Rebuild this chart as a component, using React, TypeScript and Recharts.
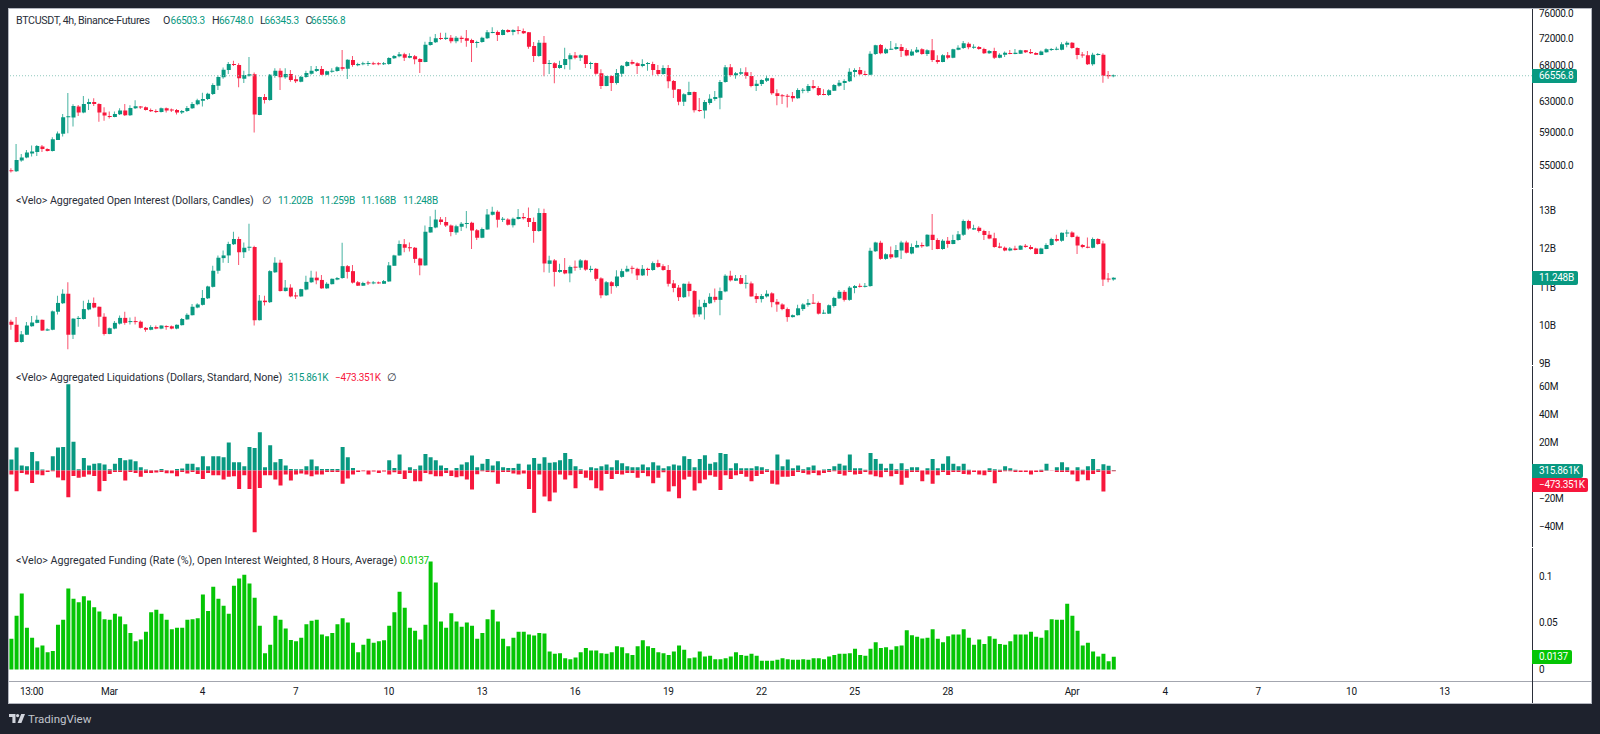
import { Bar, BarChart, Cell, ComposedChart, ReferenceLine, XAxis, YAxis } from "recharts";

// BTCUSDT 4h candles
const btcOpen = [
  54430,54390,55630,55980,56460,56660,57300,57020,56780,58110,
  58860,60960,60920,62350,61570,62700,62970,62700,61570,61140,
  61010,61350,61830,61220,62130,62350,62260,61910,61780,61650,
  62130,61910,61910,61570,61780,62130,62660,63140,63360,64040,
  65180,66340,67370,68230,68090,66150,66570,66760,61260,63630,
  63230,66520,67280,66340,66800,66050,65730,66380,66850,67230,
  67520,66710,67130,67230,67750,67560,68810,68040,68190,68230,
  68280,68280,68190,68230,69050,69350,69640,69150,69350,68960,
  68520,71030,71430,72090,71930,72140,71580,72140,72040,71780,
  71330,71480,72040,72850,73010,72540,73320,73010,73320,73170,
  72950,70880,69400,71380,68230,68330,67660,68090,68910,69450,
  69150,69500,68230,68380,66900,65130,66520,65550,66850,67950,
  68520,68330,67950,68230,68230,67370,66800,67660,65820,64670,
  63010,63900,64310,61910,61830,62840,63360,63540,65680,67750,
  66620,66850,67040,66520,65130,65410,65870,66200,64130,63860,
  63810,63770,63450,64490,64450,65130,64860,63990,63900,64490,
  65180,65550,65780,67090,67370,66800,66710,69690,71030,69790,
  70330,70430,70730,70280,69450,69940,70380,69690,70240,68810,
  68520,69500,69150,70330,70580,71230,70630,70730,70430,69790,
  70140,69150,69590,69840,69690,69740,70240,69990,69840,69550,
  69940,70280,70330,70330,71080,71380,70580,69590,69500,68190,
  69550,69590,66660,66503.3,
];
const btcHigh = [
  54740,57620,56420,56900,57420,57500,57500,57100,58440,59140,
  61390,64170,62660,62570,63770,63410,63450,62790,62260,61700,
  61700,62130,62700,62530,63190,62440,62350,62090,62000,62220,
  62220,62090,62040,61910,62440,62970,63410,64220,64220,65500,
  66620,67710,68520,68710,68330,67280,69250,67000,63680,64040,
  66800,67610,67610,67610,67370,66620,66520,67280,67950,67950,
  67950,67280,67610,67900,70280,68910,69400,68420,68570,68670,
  68570,68470,68520,69200,69550,69990,69890,69790,69550,69050,
  71530,72290,72700,72900,72900,72540,72390,72440,73320,71980,
  71680,72290,73320,73740,73220,73430,73430,73430,73900,73530,
  73010,71480,71780,72390,68810,68470,68710,70630,69790,69990,
  69640,69550,68570,68420,67470,66570,66620,67520,68090,68670,
  68860,68470,68910,68520,68570,68090,68040,68090,65960,64720,
  64130,65730,64360,63500,63230,63990,64450,65960,68090,68230,
  67090,67610,67750,67090,65960,66050,66620,66290,64670,64040,
  64040,64310,64810,64860,65410,65960,65130,64670,64670,65410,
  65960,66050,67610,67610,67800,67280,70090,71080,71180,70630,
  71630,71280,71180,70530,70380,70730,70530,70380,71930,69500,
  69640,69990,70480,70980,71630,71430,71130,70880,70630,70280,
  70630,69790,70040,70280,70430,70330,70280,70430,69940,70190,
  70530,70580,70780,71430,71580,71480,70680,69990,70140,69890,
  69840,69790,67230,66748,
];
const btcLow = [
  54240,54310,55480,55900,56100,56180,56660,56700,56700,58110,
  58520,58940,59770,61140,61480,61910,62440,60400,60530,60790,
  60960,61260,61140,61140,62040,62040,61830,61650,61520,61570,
  61570,61650,61310,61390,61650,62040,62530,62350,63230,63900,
  64580,66150,66800,67950,64950,65550,66430,59020,61220,62750,
  63140,66290,64580,66150,65730,65550,65640,66290,66710,67090,
  66620,66620,66990,67130,67280,66100,67850,67900,68040,67950,
  68090,68040,68090,68140,68960,69200,68670,69050,68190,66950,
  68470,70930,71330,71780,71780,71280,71280,71380,70780,68520,
  70630,71380,71930,72800,71630,72490,72900,72490,72650,72700,
  70480,68520,69300,66480,66800,65500,67560,67470,67420,68910,
  68670,67660,67520,66710,64720,65090,64450,65320,66430,67850,
  68140,66800,67750,67280,66620,66570,66710,64810,63500,62530,
  62440,63860,61570,61650,60790,62610,63140,62000,65590,66430,
  66150,66660,66150,64950,64450,65130,65680,63950,62530,62700,
  62220,63010,63410,64130,64220,64670,63770,63860,63770,64450,
  65040,64580,65680,66340,66620,66620,66620,69550,69640,69690,
  70280,70280,69250,69350,69400,69840,69590,69400,68520,68280,
  68470,68910,69050,70240,70430,70380,70480,70330,69690,69690,
  68960,69050,69250,69640,69640,69690,69840,69690,69550,69500,
  69890,70140,70240,70240,70680,70480,68910,69150,68090,67990,
  69450,65590,66150,66345.3,
];
const btcClose = [
  54400,55710,55980,56580,56700,57380,57020,56780,58190,58900,
  60960,61050,62440,61570,62700,62970,62700,61570,61180,61010,
  61390,61830,61220,62170,62390,62220,61910,61740,61650,62130,
  61830,61830,61570,61780,62170,62700,63190,63360,64080,65270,
  66380,67420,68230,68090,66200,66660,66760,61310,63630,63230,
  66710,67280,66340,66800,65960,65780,66430,66950,67280,67520,
  66710,67180,67280,67750,67560,68860,68090,68230,68330,68280,
  68190,68190,68280,69100,69400,69640,69150,69400,68910,68520,
  71080,71480,72040,71930,72140,71580,72140,71930,71680,71330,
  71480,72140,72950,73010,72540,73320,73010,73320,73170,72800,
  70780,69400,71380,68230,68330,67660,68090,68960,69500,69150,
  69500,68230,68380,66850,65130,66520,65550,66950,67990,68520,
  68280,67950,68230,68330,67370,66800,67660,65780,64630,63010,
  63990,64310,61870,61780,62970,63410,63630,65680,67750,66620,
  66900,67040,66520,65130,65450,65960,66200,64130,63770,63720,
  63680,63450,64580,64580,65130,64860,63900,63900,64540,65270,
  65590,65820,67130,67370,66760,66660,69740,70980,69790,70380,
  70430,70730,70140,69450,70040,70330,69690,70240,68810,68520,
  69500,69150,70380,70630,71280,70680,70730,70430,69790,70140,
  69150,69590,69890,69690,69890,70240,69940,69790,69590,70040,
  70380,70380,70430,71130,71380,70580,69550,69450,68190,69590,
  69690,66570,66503.3,66556.8,
];

// Aggregated open interest candles, in billions
const oiOpen = [
  10.10,10.02,9.57,9.76,9.98,10.07,10.15,9.87,9.89,10.36,
  10.58,10.83,9.76,10.17,10.17,10.42,10.59,10.49,10.23,9.78,
  9.92,10.05,10.20,10.09,10.11,10.10,9.94,9.89,9.96,9.92,
  9.98,9.98,9.92,10.01,10.16,10.27,10.47,10.54,10.71,11.01,
  11.43,11.76,11.83,12.12,12.26,11.91,12.03,12.05,10.14,10.65,
  10.61,11.39,11.64,10.90,10.99,10.77,10.76,10.94,11.13,11.25,
  11.19,10.97,11.08,11.20,11.24,11.55,11.42,11.13,11.04,11.12,
  11.10,11.12,11.09,11.15,11.56,11.83,12.12,12.04,12.03,11.75,
  11.57,12.43,12.56,12.77,12.70,12.61,12.43,12.58,12.65,12.68,
  12.49,12.29,12.51,12.89,12.97,12.76,12.77,12.62,12.78,12.83,
  12.81,12.70,12.47,12.94,11.61,11.70,11.40,11.45,11.36,11.53,
  11.51,11.70,11.45,11.48,11.23,10.79,11.13,11.03,11.27,11.41,
  11.50,11.48,11.31,11.48,11.45,11.63,11.55,11.45,11.10,10.99,
  10.74,11.09,10.90,10.29,10.48,10.58,10.75,10.67,10.89,11.30,
  11.17,11.24,11.09,11.10,10.77,10.69,10.76,10.84,10.62,10.55,
  10.43,10.22,10.27,10.43,10.54,10.59,10.59,10.31,10.31,10.51,
  10.71,10.88,10.67,10.98,11.03,11.01,11.03,11.94,12.16,11.74,
  11.86,11.78,11.96,12.17,11.88,12.04,12.10,12.07,12.37,12.23,
  12.00,12.21,12.13,12.23,12.37,12.73,12.51,12.55,12.47,12.37,
  12.28,12.06,12.03,11.96,12.01,11.98,12.08,12.05,12.01,11.87,
  12.00,12.10,12.26,12.21,12.40,12.43,12.32,12.10,12.05,12.03,
  12.26,12.14,11.22,11.202,
];
const oiHigh = [
  10.15,10.22,9.86,10.09,10.25,10.26,10.16,9.93,10.39,10.78,
  10.95,11.13,10.19,10.25,10.65,10.67,10.73,10.50,10.32,9.95,
  10.12,10.26,10.36,10.21,10.23,10.13,9.96,10.01,10.00,10.01,
  10.01,10.00,10.03,10.20,10.32,10.56,10.58,10.93,11.04,11.56,
  11.83,11.96,12.19,12.45,12.32,12.17,12.66,12.08,10.80,10.78,
  11.44,11.78,11.72,11.19,11.08,10.87,10.96,11.30,11.43,11.41,
  11.32,11.13,11.23,11.27,12.16,11.58,11.58,11.16,11.14,11.17,
  11.16,11.15,11.19,11.66,11.85,12.22,12.26,12.17,12.05,11.77,
  12.61,12.85,13.02,12.83,12.83,12.64,12.63,12.70,12.99,12.71,
  12.52,12.56,13.04,13.10,13.01,12.83,12.80,12.82,13.04,12.94,
  13.08,12.82,13.06,13.05,11.82,11.74,11.61,11.76,11.57,11.70,
  11.74,11.72,11.56,11.50,11.26,11.16,11.16,11.44,11.48,11.56,
  11.56,11.51,11.58,11.51,11.67,11.72,11.60,11.58,11.19,11.06,
  11.10,11.15,10.92,10.67,10.67,10.84,10.97,10.99,11.34,11.43,
  11.32,11.32,11.32,11.15,10.84,10.82,10.92,10.87,10.69,10.58,
  10.47,10.29,10.54,10.58,10.69,10.82,10.63,10.41,10.55,10.75,
  10.93,10.93,11.03,11.06,11.10,11.11,12.03,12.19,12.21,11.89,
  12.06,12.10,12.21,12.21,12.14,12.21,12.17,12.38,12.91,12.28,
  12.25,12.31,12.37,12.47,12.77,12.76,12.63,12.59,12.50,12.47,
  12.42,12.16,12.06,12.05,12.08,12.10,12.13,12.10,12.03,12.03,
  12.15,12.29,12.37,12.43,12.50,12.46,12.35,12.13,12.30,12.30,
  12.28,12.21,11.37,11.259,
];
const oiLow = [
  9.89,9.56,9.55,9.76,9.97,10.06,9.86,9.86,9.88,10.29,
  10.56,9.38,9.65,9.97,10.16,10.40,10.45,9.97,9.74,9.77,
  9.90,10.03,10.02,10.03,10.03,9.92,9.84,9.88,9.90,9.90,
  9.89,9.90,9.90,10.00,10.15,10.26,10.45,10.52,10.69,10.99,
  11.35,11.64,11.63,12.10,11.58,11.76,11.95,10.00,10.13,10.52,
  10.59,11.37,10.89,10.89,10.74,10.69,10.75,10.92,11.11,11.08,
  10.96,10.96,11.07,11.18,11.22,11.23,11.10,11.03,11.03,11.06,
  11.08,11.09,11.09,11.14,11.56,11.82,11.91,11.93,11.63,11.31,
  11.56,12.42,12.54,12.63,12.57,12.33,12.37,12.47,12.54,12.00,
  12.23,12.28,12.50,12.87,12.56,12.70,12.61,12.56,12.77,12.77,
  12.57,12.16,12.45,11.39,11.38,11.02,11.38,11.34,11.13,11.43,
  11.45,11.43,11.39,11.16,10.71,10.77,10.83,10.99,11.25,11.39,
  11.36,11.19,11.29,11.30,11.43,11.51,11.43,11.02,10.87,10.64,
  10.72,10.76,10.21,10.23,10.16,10.56,10.61,10.27,10.87,11.15,
  11.16,11.08,10.97,10.75,10.59,10.60,10.73,10.48,10.36,10.40,
  10.10,10.21,10.26,10.38,10.49,10.56,10.29,10.30,10.30,10.47,
  10.69,10.63,10.65,10.84,10.99,10.99,11.01,11.92,11.72,11.72,
  11.74,11.76,11.74,11.88,11.86,12.03,12.03,12.05,11.97,11.99,
  11.98,12.03,12.12,12.21,12.34,12.50,12.50,12.43,12.23,12.25,
  12.03,12.02,11.94,11.94,11.96,11.97,12.03,11.98,11.86,11.86,
  11.99,12.08,12.19,12.19,12.31,12.30,11.87,12.02,12.02,12.02,
  12.11,11.03,11.13,11.168,
];
const oiClose = [
  10.02,9.57,9.77,10.00,10.08,10.15,9.87,9.90,10.37,10.59,
  10.83,9.76,10.18,10.20,10.43,10.59,10.47,10.23,9.78,9.93,
  10.07,10.20,10.07,10.10,10.09,9.94,9.89,9.96,9.92,10.00,
  9.96,9.92,10.02,10.17,10.28,10.49,10.55,10.72,11.02,11.43,
  11.77,11.83,12.13,12.26,11.91,12.03,12.05,10.14,10.65,10.61,
  11.42,11.64,10.90,10.99,10.76,10.76,10.95,11.14,11.25,11.18,
  10.97,11.09,11.22,11.24,11.55,11.40,11.12,11.04,11.11,11.10,
  11.12,11.10,11.16,11.57,11.83,12.13,12.03,12.02,11.74,11.57,
  12.45,12.57,12.77,12.70,12.61,12.44,12.59,12.66,12.67,12.48,
  12.29,12.52,12.90,12.97,12.76,12.77,12.63,12.79,12.83,12.80,
  12.70,12.47,12.94,11.62,11.70,11.40,11.45,11.36,11.53,11.51,
  11.70,11.46,11.48,11.22,10.79,11.13,11.03,11.28,11.42,11.48,
  11.48,11.31,11.48,11.45,11.63,11.53,11.45,11.09,10.98,10.74,
  11.09,10.90,10.29,10.49,10.59,10.75,10.67,10.90,11.30,11.18,
  11.23,11.09,11.10,10.76,10.69,10.77,10.83,10.61,10.55,10.43,
  10.22,10.27,10.45,10.55,10.59,10.57,10.31,10.33,10.53,10.72,
  10.88,10.67,10.99,11.03,11.01,11.03,11.95,12.17,11.74,11.86,
  11.78,11.97,12.17,11.90,12.05,12.10,12.07,12.37,12.23,12.00,
  12.21,12.13,12.23,12.38,12.73,12.53,12.54,12.47,12.36,12.27,
  12.05,12.03,11.96,12.01,11.97,12.08,12.05,12.00,11.87,12.01,
  12.10,12.26,12.21,12.42,12.43,12.31,12.09,12.05,12.03,12.26,
  12.13,11.20,11.20,11.248,
];

// Aggregated liquidations, in millions of dollars
const liqLong = [
  7.9,16.4,3.6,3.1,13.3,6.7,0.7,0.1,10.2,16.4,
  16.9,61.7,20.5,1.0,9.0,3.6,4.8,5.2,4.3,1.0,
  4.8,9.0,7.4,7.9,6.7,2.4,0.7,0.2,0.2,1.2,
  0.2,0.1,1.2,1.4,4.8,4.8,2.4,10.2,3.1,10.2,
  10.2,9.5,20.0,6.0,6.0,3.1,16.9,16.2,27.4,2.4,
  18.1,6.0,8.3,3.6,1.2,1.0,1.0,3.1,7.9,3.1,
  1.2,1.2,1.2,1.2,16.9,9.5,1.9,0.1,0.1,0.1,
  0.1,0.1,0.1,7.4,1.9,11.4,0.1,2.4,1.0,3.6,
  11.9,9.5,7.4,3.6,1.9,0.1,1.9,4.3,6.0,10.7,
  2.4,4.8,8.3,3.6,6.7,2.4,1.9,1.9,4.8,0.1,
  4.3,9.0,4.8,9.5,5.5,6.0,7.4,12.6,8.3,3.1,
  1.0,0.1,2.4,1.7,3.1,4.3,2.4,7.4,5.2,3.1,
  2.4,2.4,4.3,2.4,6.0,3.6,1.7,3.1,4.3,3.6,
  10.2,8.3,2.4,8.3,11.0,4.8,6.0,12.6,11.9,1.7,
  5.2,1.7,1.7,1.7,3.1,2.4,1.0,0.1,11.4,3.1,
  7.9,1.7,3.6,1.0,2.4,3.6,0.1,0.7,1.2,3.1,
  4.8,3.6,11.4,1.7,1.7,0.5,12.6,8.3,4.8,1.7,
  4.8,1.0,5.2,1.0,2.4,2.4,0.1,1.7,8.3,1.7,
  4.8,10.2,4.8,3.1,4.8,0.5,0.1,0.1,0.1,1.7,
  1.0,0.5,3.1,1.7,0.5,0.1,0.1,0.1,0.1,0.5,
  4.8,0.1,2.4,6.0,2.4,0.1,2.4,0.5,3.1,8.3,
  1.0,4.5,3.5,0.316,
];
const liqShort = [
  -2.9,-14.8,-1.7,-2.9,-8.8,-2.9,-3.3,-1.0,-0.5,-5.0,
  -6.9,-19.0,-3.8,-5.2,-4.5,-2.9,-3.8,-14.8,-7.4,-2.4,
  -1.0,-1.0,-7.1,-1.0,-1.7,-4.5,-1.7,-1.7,-1.4,-1.0,
  -1.9,-1.9,-4.0,-1.0,-2.1,-1.0,-2.4,-6.0,-1.7,-3.3,
  -3.3,-6.4,-4.5,-4.0,-13.1,-3.3,-13.1,-44.0,-12.4,-3.3,
  -3.3,-6.4,-10.7,-2.9,-7.1,-2.9,-2.1,-2.9,-4.0,-2.9,
  -2.9,-1.0,-1.0,-1.0,-9.5,-5.7,-2.9,-1.0,-0.5,-2.9,
  -0.7,-1.7,-0.7,-2.9,-1.2,-2.4,-6.0,-1.7,-7.6,-7.6,
  -1.7,-2.6,-4.0,-4.0,-1.7,-3.8,-4.8,-4.0,-6.4,-13.6,
  -2.6,-0.5,-1.0,-1.2,-9.5,-1.0,-1.0,-2.1,-2.9,-2.1,
  -13.1,-30.2,-2.9,-18.6,-21.9,-15.7,-2.9,-6.4,-3.3,-12.6,
  -2.4,-5.2,-6.9,-12.6,-14.3,-2.4,-6.0,-2.4,-2.9,-1.7,
  -1.7,-5.2,-1.7,-4.0,-9.0,-5.2,-1.2,-15.0,-11.2,-19.8,
  -6.4,-4.5,-14.3,-9.0,-6.4,-3.3,-4.5,-13.8,-3.3,-6.0,
  -3.3,-2.4,-4.5,-7.6,-3.8,-2.4,-1.0,-9.5,-10.0,-4.5,
  -4.5,-3.8,-1.0,-1.7,-2.9,-1.7,-3.3,-1.7,-1.0,-0.5,
  -2.4,-3.6,-1.0,-2.9,-2.4,-1.0,-2.9,-4.0,-4.8,-1.0,
  -4.0,-2.4,-10.2,-5.2,-1.0,-1.0,-7.6,-2.9,-9.5,-3.3,
  -1.0,-3.1,-1.0,-1.0,-2.4,-2.9,-1.0,-2.9,-3.3,-1.0,
  -9.0,-1.0,-0.5,-0.5,-1.0,-1.0,-1.0,-2.9,-1.0,-1.0,
  -0.2,-0.2,-1.0,-1.0,-1.0,-2.9,-7.6,-2.9,-6.9,-2.4,
  -1.0,-15.0,-2.5,-0.473,
];

// Aggregated funding rate, percent
const funding = [
  0.0329,0.0576,0.0815,0.0447,0.034,0.0236,0.0258,0.0186,0.02,0.0479,
  0.0533,0.0869,0.0758,0.0722,0.0787,0.074,0.0669,0.0622,0.054,0.0533,
  0.0597,0.0569,0.0486,0.0393,0.0304,0.0322,0.0404,0.0615,0.064,0.0597,
  0.0533,0.0433,0.0447,0.0447,0.0533,0.054,0.0551,0.0805,0.0629,0.0887,
  0.0758,0.0683,0.0597,0.0898,0.0976,0.1016,0.0923,0.0769,0.0469,0.0175,
  0.0265,0.0576,0.0533,0.044,0.0318,0.0304,0.034,0.0486,0.0522,0.0533,
  0.0376,0.0358,0.0393,0.0486,0.0551,0.0504,0.0286,0.0186,0.0265,0.0329,
  0.0286,0.0304,0.0315,0.0469,0.0615,0.0833,0.0662,0.0447,0.0415,0.0322,
  0.0479,0.1159,0.0933,0.0515,0.0447,0.0604,0.0515,0.0458,0.0504,0.0469,
  0.0329,0.0393,0.054,0.064,0.0515,0.0329,0.025,0.034,0.0404,0.0404,
  0.0376,0.0365,0.0393,0.0386,0.0193,0.0168,0.0175,0.0122,0.0111,0.0129,
  0.0186,0.0232,0.0204,0.0204,0.0175,0.0168,0.0186,0.025,0.024,0.0175,
  0.0157,0.025,0.0315,0.025,0.0232,0.0186,0.0175,0.0157,0.0193,0.0258,
  0.0211,0.0122,0.0129,0.0193,0.0139,0.0147,0.0111,0.0111,0.0122,0.0139,
  0.0186,0.0157,0.0147,0.0168,0.0147,0.0093,0.0093,0.0093,0.0104,0.0122,
  0.0111,0.0104,0.0104,0.0111,0.0104,0.0122,0.0122,0.0111,0.0139,0.0157,
  0.0168,0.0168,0.0175,0.0222,0.0157,0.0147,0.0222,0.0293,0.0232,0.024,
  0.0211,0.025,0.0258,0.0422,0.0368,0.0351,0.0333,0.034,0.0433,0.0329,
  0.0293,0.0358,0.0376,0.0376,0.0433,0.034,0.0265,0.0322,0.0275,0.0358,
  0.0329,0.0275,0.0265,0.0304,0.0376,0.0376,0.0376,0.0404,0.0351,0.034,
  0.0422,0.054,0.0533,0.0533,0.0705,0.0576,0.0415,0.0258,0.0286,0.0193,
  0.0139,0.017,0.009,0.0137,
];

// time axis, slot = 4h bar index
const timeSlots = [4, 19, 37, 55, 73, 91, 109, 127, 145, 163, 181, 205, 223, 241, 259, 277];
const timeLabels = ["13:00", "Mar", "4", "7", "10", "13", "16", "19", "22", "25", "28", "Apr", "4", "7", "10", "13"];

const priceTicks = [55000, 59000, 63000, 68000, 72000, 76000];
const oiTicks = [9, 10, 11, 12, 13];
const liqTicks = [-40, -20, 20, 40, 60];
const fundingTicks = [0, 0.05, 0.1];

const SLOTS = 294;
const GREEN = "#089981";
const RED = "#f7173c";
const LIME = "#05c505";
const FONT = "Roboto, sans-serif";
const PLOT_LEFT = 8.4;
const CHART_W = 1591;
const AXIS_W = 59;
const tickStyle = { fill: "#131722", fontSize: 10, fontFamily: FONT, letterSpacing: -0.3 };

const slotIds = Array.from({ length: SLOTS }, (_, i) => i);

const buildCandles = (o: number[], h: number[], l: number[], c: number[]) =>
  slotIds.map((slot) =>
    slot < c.length
      ? {
          slot,
          wick: [l[slot], h[slot]],
          body: [Math.min(o[slot], c[slot]), Math.max(o[slot], c[slot])],
          up: c[slot] >= o[slot],
        }
      : { slot, wick: null, body: null, up: true }
  );

const btcRows = buildCandles(btcOpen, btcHigh, btcLow, btcClose);
const oiRows = buildCandles(oiOpen, oiHigh, oiLow, oiClose);
const liqRows = slotIds.map((slot) => ({ slot, long: liqLong[slot] ?? null, short: liqShort[slot] ?? null }));
const fundingRows = slotIds.map((slot) => ({ slot, rate: funding[slot] ?? null }));

const paneStyle = (top: number): React.CSSProperties => ({ position: "absolute", left: 0, top });

const CandlePane = ({ rows, top, height, domain, ticks, format, scale, last }: any) => (
  <div style={paneStyle(top)}>
    <ComposedChart width={CHART_W} height={height} data={rows} margin={{ top: 0, right: 0, bottom: 0, left: PLOT_LEFT }}>
      <XAxis xAxisId="wick" dataKey="slot" hide padding={{ right: 2 }} />
      <XAxis xAxisId="body" dataKey="slot" hide padding={{ right: 2 }} />
      <YAxis
        orientation="right"
        width={AXIS_W}
        scale={scale}
        domain={domain}
        allowDataOverflow
        ticks={ticks}
        interval={0}
        tickFormatter={format}
        axisLine={false}
        tickLine={false}
        tick={tickStyle}
        tickMargin={1}
      />
      <ReferenceLine xAxisId="body" y={last} stroke={last > 1000 ? "#8fc9bd" : "none"} strokeDasharray="1 2" />
      <Bar xAxisId="wick" dataKey="wick" barSize={1} isAnimationActive={false}>
        {rows.map((r: any) => (
          <Cell key={r.slot} fill={r.up ? GREEN : RED} fillOpacity={0.75} />
        ))}
      </Bar>
      <Bar xAxisId="body" dataKey="body" barSize={4} minPointSize={1} isAnimationActive={false}>
        {rows.map((r: any) => (
          <Cell key={r.slot} fill={r.up ? GREEN : RED} />
        ))}
      </Bar>
    </ComposedChart>
  </div>
);

const Txt = ({ x, y, color = "#2a2e39", num = false, spacing = -0.1, children }: any) => (
  <span
    style={{
      position: "absolute",
      left: x,
      top: y - 8,
      height: 16,
      lineHeight: "16px",
      fontFamily: FONT,
      fontSize: num ? 10 : 10.7,
      letterSpacing: num ? -0.3 : spacing,
      whiteSpace: "nowrap",
      color,
    }}
  >
    {children}
  </span>
);

const Tag = ({ top, width, bg, children }: any) => (
  <div
    style={{
      position: "absolute",
      left: 1532,
      top,
      width,
      height: 14,
      lineHeight: "14px",
      background: bg,
      borderRadius: "0 2px 2px 0",
      color: "#fff",
      fontFamily: FONT,
      fontSize: 10,
      letterSpacing: -0.3,
      paddingLeft: 7,
      boxSizing: "border-box",
      whiteSpace: "nowrap",
    }}
  >
    {children}
  </div>
);

export default function App() {
  return (
    <div style={{ position: "absolute", left: 0, top: 0, width: 1600, height: 734, background: "#1e222d", overflow: "hidden" }}>
      <style>{`svg.recharts-surface{overflow:visible}`}</style>
      <div
        style={{
          position: "absolute",
          left: 8,
          top: 8,
          width: 1584,
          height: 696,
          background: "#fff",
          border: "1px solid #b2b5be",
          boxSizing: "border-box",
        }}
      />

      <CandlePane
        rows={btcRows}
        top={9}
        height={179}
        domain={[52494, 76645]}
        ticks={priceTicks}
        scale="log"
        format={(v: number) => v.toFixed(1)}
        last={66556.8}
      />
      <CandlePane
        rows={oiRows}
        top={188}
        height={177}
        domain={[8.97, 13.59]}
        ticks={oiTicks}
        scale="linear"
        format={(v: number) => `${v}B`}
        last={11.248}
      />

      <div style={paneStyle(365)}>
        <BarChart
          width={CHART_W}
          height={182}
          data={liqRows}
          stackOffset="sign"
          margin={{ top: 0, right: 0, bottom: 0, left: PLOT_LEFT }}
        >
          <XAxis dataKey="slot" hide padding={{ right: 2 }} />
          <YAxis
            orientation="right"
            width={AXIS_W}
            domain={[-54.6, 75.4]}
            allowDataOverflow
            ticks={liqTicks}
            interval={0}
            tickFormatter={(v: number) => `${v < 0 ? "\u2212" : ""}${Math.abs(v)}M`}
            axisLine={false}
            tickLine={false}
            tick={tickStyle}
            tickMargin={1}
          />
          <Bar dataKey="long" stackId="liq" fill={GREEN} barSize={4} isAnimationActive={false} />
          <Bar dataKey="short" stackId="liq" fill={RED} barSize={4} isAnimationActive={false} />
        </BarChart>
      </div>

      <div style={paneStyle(547)}>
        <BarChart
          width={CHART_W}
          height={156}
          data={fundingRows}
          margin={{ top: 0, right: 0, bottom: 0, left: PLOT_LEFT }}
        >
          <XAxis
            dataKey="slot"
            height={22}
            padding={{ right: 2 }}
            ticks={timeSlots}
            interval={0}
            tickFormatter={(v: number) => timeLabels[timeSlots.indexOf(v)]}
            axisLine={false}
            tickLine={false}
            tick={tickStyle}
            tickMargin={1}
          />
          <YAxis
            orientation="right"
            width={AXIS_W}
            domain={[-0.0123, 0.1314]}
            allowDataOverflow
            ticks={fundingTicks}
            interval={0}
            axisLine={false}
            tickLine={false}
            tick={tickStyle}
            tickMargin={1}
          />
          <Bar dataKey="rate" fill={LIME} barSize={4} isAnimationActive={false} />
        </BarChart>
      </div>

      {/* pane frame lines */}
      <div style={{ position: "absolute", left: 9, top: 681, width: 1582, height: 1, background: "#a3a6af" }} />
      <div style={{ position: "absolute", left: 1532, top: 9, width: 1, height: 179, background: "#2a2e39" }} />
      <div style={{ position: "absolute", left: 1532, top: 189, width: 1, height: 176, background: "#2a2e39" }} />
      <div style={{ position: "absolute", left: 1532, top: 366, width: 1, height: 181, background: "#2a2e39" }} />
      <div style={{ position: "absolute", left: 1532, top: 548, width: 1, height: 155, background: "#2a2e39" }} />

      {/* pane legends */}
      <Txt x={16} y={21} spacing={-0.35}>BTCUSDT, 4h, Binance-Futures</Txt>
      <Txt x={163} y={21}>O</Txt>
      <Txt x={170.6} y={21} color={GREEN} num>66503.3</Txt>
      <Txt x={212} y={21}>H</Txt>
      <Txt x={219} y={21} color={GREEN} num>66748.0</Txt>
      <Txt x={260} y={21}>L</Txt>
      <Txt x={264.5} y={21} color={GREEN} num>66345.3</Txt>
      <Txt x={305.5} y={21}>C</Txt>
      <Txt x={311} y={21} color={GREEN} num>66556.8</Txt>

      <Txt x={16} y={201}>&lt;Velo&gt; Aggregated Open Interest (Dollars, Candles)</Txt>
      <Txt x={262} y={201}>∅</Txt>
      <Txt x={278} y={201} color={GREEN} num>11.202B</Txt>
      <Txt x={320} y={201} color={GREEN} num>11.259B</Txt>
      <Txt x={361} y={201} color={GREEN} num>11.168B</Txt>
      <Txt x={403} y={201} color={GREEN} num>11.248B</Txt>

      <Txt x={16} y={378}>&lt;Velo&gt; Aggregated Liquidations (Dollars, Standard, None)</Txt>
      <Txt x={288} y={378} color={GREEN} num>315.861K</Txt>
      <Txt x={335} y={378} color={RED} num>−473.351K</Txt>
      <Txt x={387} y={378}>∅</Txt>

      <Txt x={16} y={561} spacing={0}>&lt;Velo&gt; Aggregated Funding (Rate (%), Open Interest Weighted, 8 Hours, Average)</Txt>
      <Txt x={400} y={561} color={LIME} num>0.0137</Txt>

      {/* last value tags on the price scale */}
      <Tag top={69} width={45} bg={GREEN}>66556.8</Tag>
      <Tag top={271} width={46} bg={GREEN}>11.248B</Tag>
      <Tag top={464} width={51} bg={GREEN}>315.861K</Tag>
      <Tag top={478} width={56} bg={RED}>−473.351K</Tag>
      <Tag top={650} width={40} bg={LIME}>0.0137</Tag>

      {/* TradingView mark */}
      <svg style={{ position: "absolute", left: 9, top: 713 }} width={16} height={11} viewBox="0 0 16 11">
        <path d="M0 1h6.5v9H3.4V4H0z" fill="#d1d4dc" />
        <circle cx="8.6" cy="2.6" r="1.6" fill="#d1d4dc" />
        <path d="M12.2 1H16l-3.6 9H8.6z" fill="#d1d4dc" />
      </svg>
      <span
        style={{
          position: "absolute",
          left: 28,
          top: 711,
          lineHeight: "16px",
          fontFamily: FONT,
          fontSize: 11.5,
          color: "#c3c6ce",
        }}
      >
        TradingView
      </span>
    </div>
  );
}
